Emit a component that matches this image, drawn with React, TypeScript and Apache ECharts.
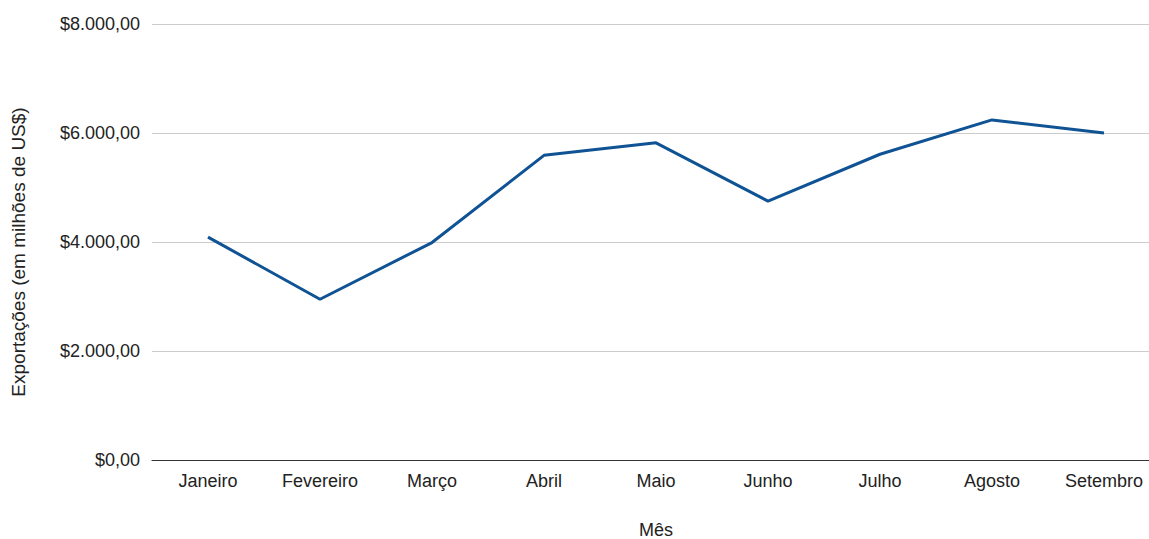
import React, { useEffect, useRef } from "react";
import * as echarts from "echarts";

const months = ["Janeiro", "Fevereiro", "Março", "Abril", "Maio", "Junho", "Julho", "Agosto", "Setembro"];
const exports = [4090, 2950, 3990, 5590, 5820, 4750, 5610, 6240, 6000];
const yTicks = [0, 2000, 4000, 6000, 8000];

function fmt(v: number): string {
  const int = Math.floor(v).toString().replace(/\B(?=(\d{3})+(?!\d))/g, ".");
  return "$" + int + ",00";
}

export default function App() {
  const ref = useRef<HTMLDivElement>(null);
  useEffect(() => {
    if (!ref.current) return;
    const chart = echarts.init(ref.current, undefined, { renderer: "svg" });
    const font = "'Liberation Sans', Arial, sans-serif";
    chart.setOption({
      animation: false,
      textStyle: { fontFamily: font },
      grid: { left: 152, top: 24, width: 1008, height: 436, containLabel: false, outerBoundsMode: "none" },
      xAxis: {
        type: "category",
        data: months,
        boundaryGap: true,
        name: "Mês",
        nameLocation: "middle",
        nameGap: 61,
        nameTextStyle: { fontSize: 18, color: "#222", fontFamily: font },
        axisLine: { lineStyle: { color: "#333", width: 1 } },
        axisTick: { show: false },
        axisLabel: { fontSize: 18, color: "#222", margin: 12, fontFamily: font, interval: 0 },
      },
      yAxis: {
        type: "value",
        min: yTicks[0],
        max: yTicks[yTicks.length - 1],
        interval: 2000,
        name: "Exportações (em milhões de US$)",
        nameLocation: "middle",
        nameGap: 124,
        nameTextStyle: { fontSize: 19, color: "#222", fontFamily: font, padding: [0, 20, 0, 0] },
        axisLine: { show: false },
        axisTick: { show: false },
        splitLine: { lineStyle: { color: "#cccccc", width: 1 } },
        axisLabel: { fontSize: 18, color: "#222", margin: 12, fontFamily: font, formatter: (v: number) => fmt(v) },
      },
      series: [
        {
          type: "line",
          data: exports,
          symbol: "none",
          lineStyle: { color: "#0f5394", width: 3 },
        },
      ],
    });
    return () => chart.dispose();
  }, []);
  return <div ref={ref} style={{ position: "fixed", left: 0, top: 0, width: 1149, height: 539, background: "#fff" }} />;
}
